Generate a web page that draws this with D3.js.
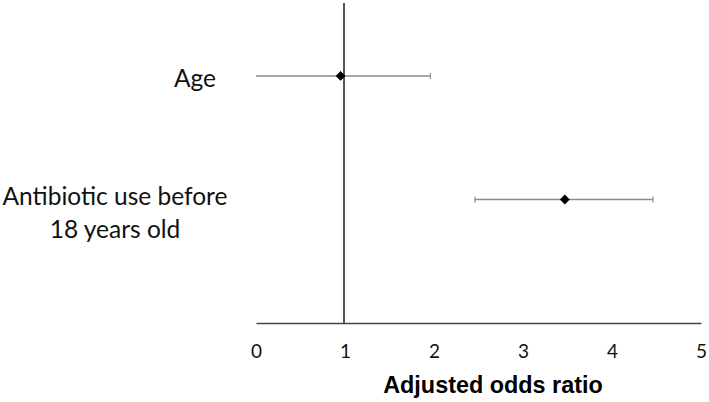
<!DOCTYPE html>
<meta charset="utf-8">
<style>
body {
	margin: 0;
	background-color: white;
}
#chart {
	display: block;
}
.tick text {
	font-family: Lato, "Open Sans", sans-serif;
	font-size: 19px;
	fill: #111;
}
.catLabel {
	font-family: Lato, "Open Sans", sans-serif;
	font-size: 24.5px;
	fill: #111;
}
.axisTitle {
	font-family: "Liberation Sans", Arial, sans-serif;
	font-size: 23.4px;
	font-weight: bold;
	fill: #000;
}
</style>
<html>
	<head>
		<title>Adjusted odds ratio</title>
		<script src="https://cdn.jsdelivr.net/npm/d3@7"></script>
	</head>
	<body>
		<svg id="chart"></svg>
<script>
'use strict'

// data
const categories = [["Age"], ["Antibiotic use before", "18 years old"]]
const oddsRatio  = [0.95, 3.47]
const ciLower    = [0, 2.46]
const ciUpper    = [1.96, 4.46]
const xTicks     = [0, 1, 2, 3, 4, 5]
const refValue   = 1

const width  = 709,
      height = 402

const svg = d3.select("#chart")
	.attr("width", width)
	.attr("height", height)

const x = d3.scaleLinear().domain([0, 5]).range([256, 701])
// rows sit at index 0, 1; the axis at index 2
const y = d3.scaleLinear().domain([-0.59, 2]).range([3, 323])

// x axis: line with no ticks, labels below
const xAxis = svg.append("g")
	.attr("transform", "translate(0," + y(2) + ")")
	.call(d3.axisBottom(x).tickValues(xTicks).tickSize(0).tickPadding(22).tickFormat(d3.format("d")))
xAxis.select(".domain").attr("stroke", "#444").attr("stroke-width", 1.3)

svg.append("text")
	.attr("class", "axisTitle")
	.attr("x", 493)
	.attr("y", 393)
	.attr("text-anchor", "middle")
	.text("Adjusted odds ratio")

// vertical reference line at OR = 1
svg.append("line")
	.attr("x1", x(refValue) - 1).attr("x2", x(refValue) - 1)
	.attr("y1", y(-0.59)).attr("y2", y(2))
	.attr("stroke", "#555")
	.attr("stroke-width", 2)

const rows = svg.append("g").selectAll("g")
	.data(oddsRatio.map((d, i) => ({or: d, lo: ciLower[i], hi: ciUpper[i], i: i})))
	.enter().append("g")

// confidence intervals
rows.append("line")
	.attr("x1", d => x(d.lo)).attr("x2", d => x(d.hi))
	.attr("y1", d => y(d.i)).attr("y2", d => y(d.i))
	.attr("stroke", "#8a8a8a")
	.attr("stroke-width", 1.5)

// caps (none where the interval runs off the axis start)
rows.selectAll(".cap")
	.data(d => [d.lo, d.hi].filter(v => v > x.domain()[0]).map(v => ({v: v, i: d.i})))
	.enter().append("line")
	.attr("class", "cap")
	.attr("x1", d => x(d.v)).attr("x2", d => x(d.v))
	.attr("y1", d => y(d.i) - 3).attr("y2", d => y(d.i) + 3)
	.attr("stroke", "#8a8a8a")
	.attr("stroke-width", 1.2)

// diamond markers
rows.append("path")
	.attr("d", d3.symbol().type(d3.symbolDiamond2).size(62))
	.attr("transform", d => "translate(" + x(d.or) + "," + y(d.i) + ")")
	.attr("fill", "#000")

// category labels
const labelX = [195, 115],
      labelDy = [11, 6]
const catText = svg.append("g").selectAll("text")
	.data(categories)
	.enter().append("text")
	.attr("class", "catLabel")
	.attr("text-anchor", "middle")
	.attr("x", (d, i) => labelX[i])
	.attr("y", (d, i) => y(i) + labelDy[i])
catText.selectAll("tspan")
	.data(d => d)
	.enter().append("tspan")
	.attr("x", function() { return this.parentNode.getAttribute("x") })
	.attr("dy", (d, j) => j === 0 ? 0 : 33)
	.text(d => d)
</script>
	</body>
</html>
